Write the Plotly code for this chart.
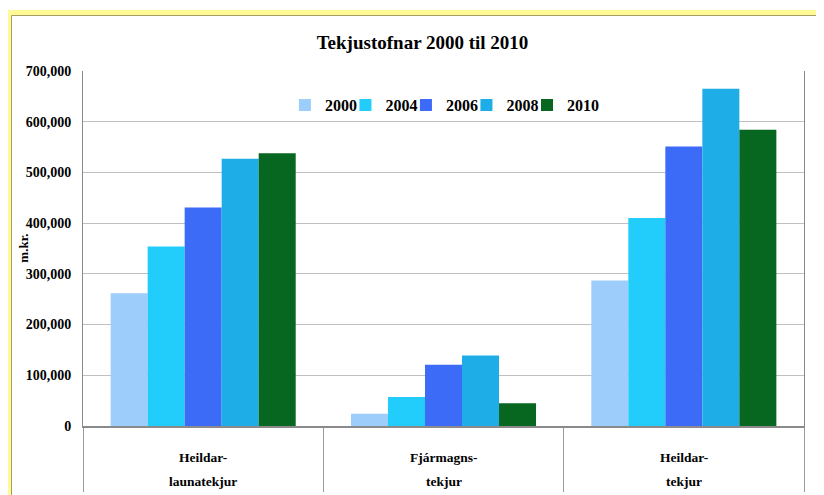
import plotly.graph_objects as go

# ----------------------------------------------------------------------
# Data (m.kr.)
# ----------------------------------------------------------------------
CATEGORIES = ['Heildar-<br>launatekjur', 'Fjármagns-<br>tekjur', 'Heildar-<br>tekjur']
CAT_KEYS = ['launa', 'fjarm', 'heild']
YEARS = ['2000', '2004', '2006', '2008', '2010']

VALUES_2000 = [262000, 24000, 287000]
VALUES_2004 = [354000, 57000, 410000]
VALUES_2006 = [431000, 121000, 551000]
VALUES_2008 = [527000, 139000, 665000]
VALUES_2010 = [538000, 45000, 584000]

SERIES = [VALUES_2000, VALUES_2004, VALUES_2006, VALUES_2008, VALUES_2010]

COLORS = {
    '2000': '#9DCDFB',
    '2004': '#22CDFB',
    '2006': '#3C6BF8',
    '2008': '#1EADE6',
    '2010': '#07661F',
}

FONT = 'Liberation Serif, Times New Roman, serif'

# the page body adds an 8px margin, so the figure is a bit smaller than the window
W, H = 816, 487

# one small legend per year so the entries sit close together like the original
LEGEND_IDS = ['legend', 'legend2', 'legend3', 'legend4', 'legend5']
LEGEND_X = [0.2801, 0.3640, 0.4479, 0.5318, 0.6158]

fig = go.Figure()
for year, vals, lid in zip(YEARS, SERIES, LEGEND_IDS):
    fig.add_trace(go.Bar(
        x=CAT_KEYS, y=vals,
        name=year,
        marker=dict(color=COLORS[year], line=dict(width=0)),
        legend=lid,
    ))

# category labels below the axis, two lines each
for key, label in zip(CAT_KEYS, CATEGORIES):
    for i, line in enumerate(label.split('<br>')):
        fig.add_annotation(
            x=key, y=-0.09 - i * 0.065, xref='x', yref='paper',
            text=line, showarrow=False, xanchor='center', yanchor='middle',
            font=dict(family=FONT, size=13.5, color='black', weight='bold'),
        )

# y axis title
fig.add_annotation(
    x=-0.083, y=0.50, xref='paper', yref='paper',
    text='m.kr.', textangle=-90, showarrow=False,
    xanchor='center', yanchor='middle',
    font=dict(family=FONT, size=13, color='black', weight='bold'),
)

# white legend backdrop hiding the gridline behind the legend
fig.add_shape(type='rect', xref='paper', yref='paper',
              x0=0.2954, x1=0.7143, y0=0.84, y1=0.97,
              fillcolor='white', line=dict(width=0), layer='between')

# yellow frame round the picture
fig.add_shape(type='rect', xref='paper', yref='paper',
              x0=-0.1033, x1=1.2, y0=-0.4, y1=1.1648,
              line=dict(color='#FFFA96', width=5), layer='below')
fig.add_shape(type='rect', xref='paper', yref='paper',
              x0=-0.0992, x1=1.2, y0=-0.4, y1=1.1563,
              line=dict(color='#A39F62', width=1), layer='below')

legend_font = dict(family=FONT, size=16, color='black', weight='bold')
legends = {
    lid: dict(orientation='h', x=lx, xanchor='left', y=0.904, yanchor='middle',
              bgcolor='rgba(0,0,0,0)', font=legend_font, itemwidth=30)
    for lid, lx in zip(LEGEND_IDS, LEGEND_X)
}

fig.update_layout(
    width=W, height=H,
    paper_bgcolor='white', plot_bgcolor='white',
    margin=dict(l=75, r=20, t=63, b=69, autoexpand=False),
    barmode='group', bargap=0.23, bargroupgap=0,
    font=dict(family=FONT, size=13, color='black', weight='bold'),
    title=dict(text='Tekjustofnar 2000 til 2010', x=0.508, xanchor='center',
               y=0.930, yanchor='middle',
               font=dict(family=FONT, size=19, color='black', weight='bold')),
    showlegend=True,
    **legends,
)

fig.update_xaxes(
    showticklabels=False,
    ticks='outside', tickson='boundaries', ticklen=64, tickcolor='#9A9A9A',
    showline=True, linecolor='#8A8A8A', linewidth=2,
    showgrid=False, mirror=False,
)
fig.update_yaxes(
    range=[0, 700000], dtick=100000, tickformat=',',
    gridcolor='#C0C0C0', gridwidth=1,
    showline=True, linecolor='#8A8A8A', linewidth=1, mirror=True,
    ticks='', ticklabelstandoff=8,
    tickfont=dict(family=FONT, size=14, color='black', weight='bold'),
    zeroline=False,
)

fig.write_html('out.html')
